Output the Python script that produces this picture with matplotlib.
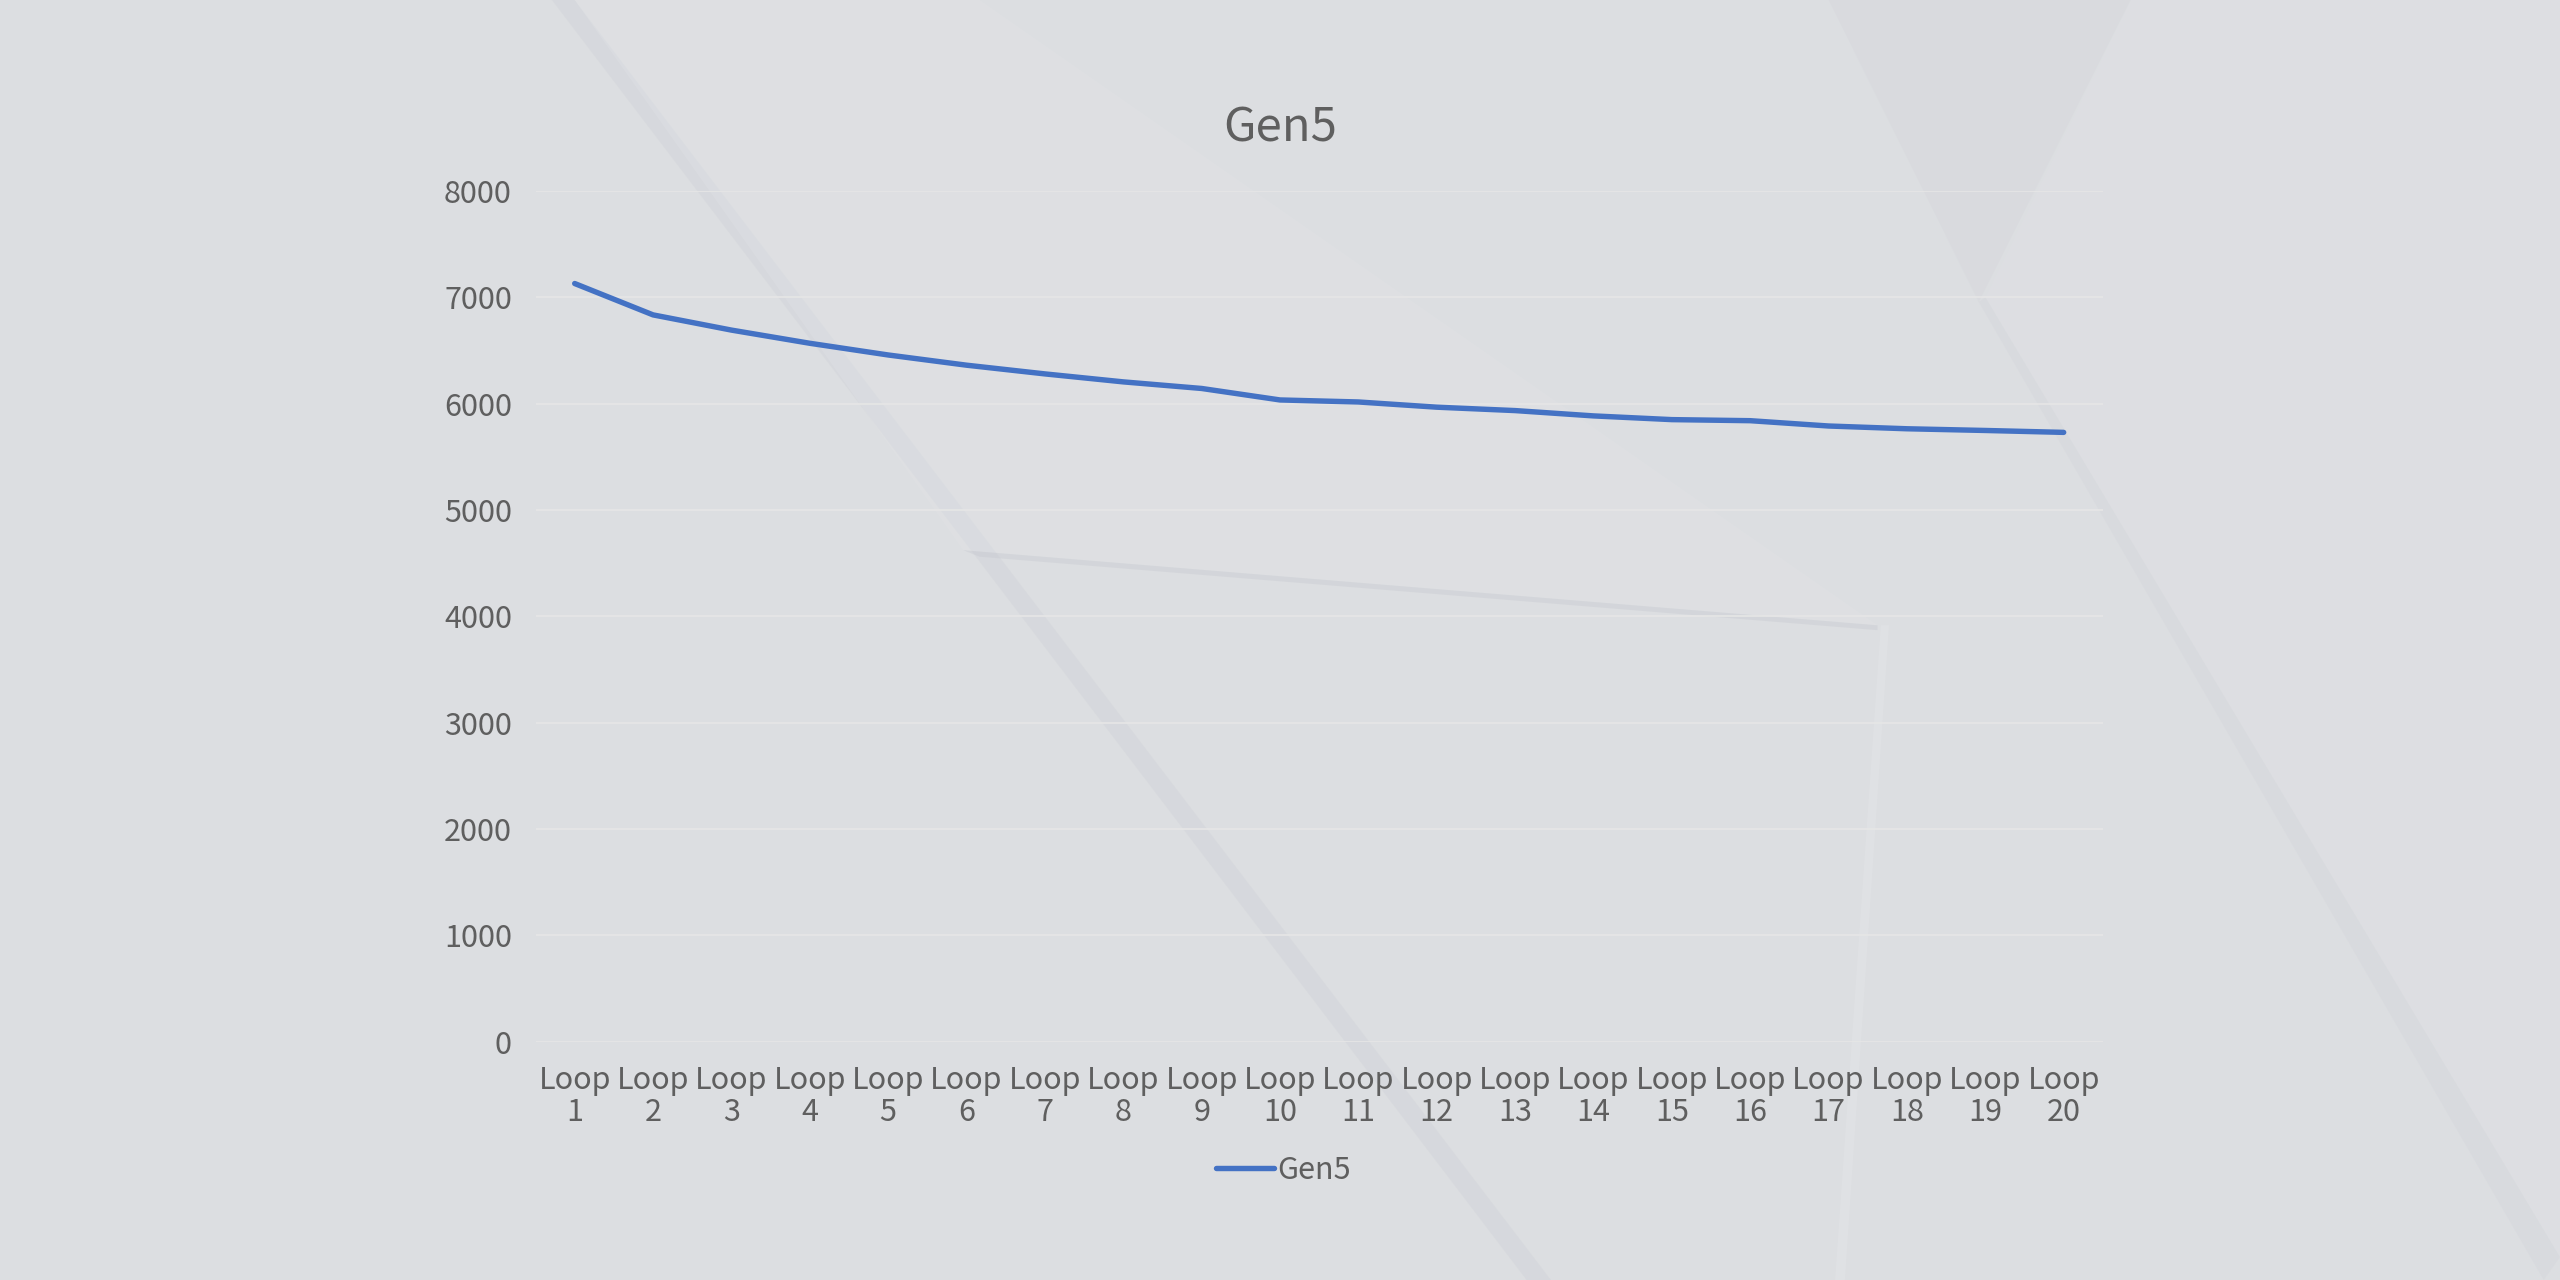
import matplotlib
matplotlib.use("Agg")
import matplotlib.pyplot as plt
from matplotlib.patches import Polygon

categories = [f"Loop\n{i}" for i in range(1, 21)]
series_name = "Gen5"
values = [7130, 6835, 6692, 6568, 6458, 6362, 6280, 6205, 6143, 6035,
          6016, 5967, 5935, 5885, 5850, 5840, 5790, 5764, 5748, 5730]
yticks = [0, 1000, 2000, 3000, 4000, 5000, 6000, 7000, 8000]

plt.rcParams['font.family'] = ['Noto Sans CJK SC', 'DejaVu Sans']

bg = '#dcdee1'
text_col = '#5f5f5f'
fig = plt.figure(figsize=(25.6, 12.8), dpi=100, facecolor=bg)

# subtle background decoration (figure coordinates)
def band(pts, color, alpha):
    fig.patches.append(Polygon(pts, closed=True, transform=fig.transFigure,
                               facecolor=color, edgecolor='none', alpha=alpha, zorder=-5))

W, H = 1568.0, 784.0
def P(x, y):
    return (x / W, 1 - y / H)

band([P(338, 0), P(352, 0), P(950, 784), P(935, 784)], '#c8cad2', 0.25)
band([P(352, 0), P(600, 0), P(1150, 383), P(590, 337)], '#e3e4e7', 0.3)
band([P(590, 337), P(1150, 383), P(1150, 386), P(600, 341)], '#c4c6ce', 0.35)
band([P(1152, 383), P(1157, 383), P(1130, 784), P(1124, 784)], '#e6e7ea', 0.35)
band([P(1120, 0), P(1305, 0), P(1212, 185)], '#d6d7dc', 0.45)
band([P(1212, 185), P(1216, 182), P(1568, 770), P(1558, 784)], '#cfd0d8', 0.25)
band([P(1305, 0), P(1568, 0), P(1568, 770), P(1216, 182)], '#dfe0e4', 0.35)

ax = fig.add_axes([328 / W, 1 - 638 / H, (1288 - 328) / W, (638 - 117) / H])
ax.set_zorder(2)
ax.set_facecolor('none')
x = list(range(len(categories)))
ax.plot(x, values, color='#4472C4', lw=3.9, solid_capstyle='round',
        solid_joinstyle='round', label=series_name, zorder=3)
ax.set_xlim(-0.5, len(categories) - 0.5)
ax.set_ylim(0, 8000)
ax.set_yticks(yticks)
ax.set_yticklabels([str(v) for v in yticks])
ax.set_xticks(x)
ax.set_xticklabels(categories, linespacing=1.05)
ax.tick_params(axis='both', length=0, colors=text_col, labelsize=22)
ax.tick_params(axis='y', pad=17)
ax.tick_params(axis='x', pad=17)
ax.grid(axis='y', color='#e6e6e6', lw=1.2, zorder=1)
for s in ax.spines.values():
    s.set_visible(False)

fig.text(784 / W, 1 - 78.5 / H, series_name, ha='center', va='center',
         fontsize=34, color=text_col)

leg = fig.legend(loc='center', bbox_to_anchor=(786 / W, 1 - 717 / H), frameon=False,
                 fontsize=22, handlelength=1.9, handletextpad=0.1)
for t in leg.get_texts():
    t.set_color(text_col)

fig.savefig('out.png', dpi=100, facecolor=bg)
